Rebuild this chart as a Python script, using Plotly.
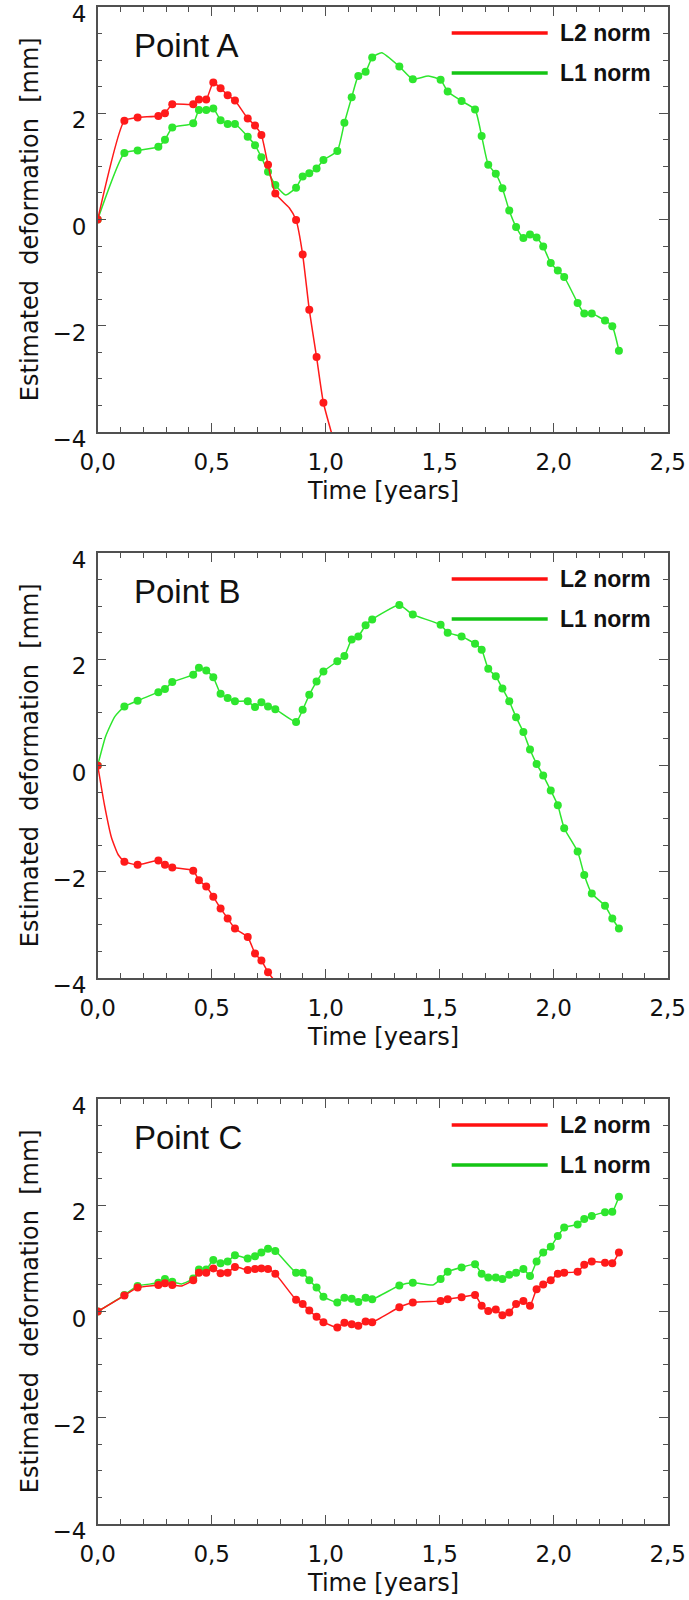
import plotly.graph_objects as go

# ---------------- data ----------------
T = [0.000, 0.117, 0.175, 0.266, 0.295, 0.327, 0.419, 0.444, 0.476, 0.507,
     0.539, 0.570, 0.602, 0.658, 0.690, 0.718, 0.747, 0.779, 0.870, 0.899,
     0.928, 0.960, 0.990, 1.051, 1.082, 1.114, 1.143, 1.175, 1.204, 1.323,
     1.382, 1.504, 1.535, 1.596, 1.655, 1.684, 1.713, 1.746, 1.775, 1.805,
     1.835, 1.867, 1.896, 1.925, 1.954, 1.987, 2.018, 2.046, 2.105, 2.134,
     2.167, 2.225, 2.257, 2.286]

# Point A
A_L2 = [0.00, 1.86, 1.92, 1.95, 2.00, 2.17, 2.17, 2.26, 2.26, 2.58,
        2.47, 2.34, 2.24, 1.90, 1.77, 1.59, 1.03, 0.49, -0.01, -0.66,
        -1.70, -2.59, -3.45]
A_L2_knot_t = [0.840, 1.051]
A_L2_knot_y = [0.22, -4.40]

A_L1 = [0.00, 1.25, 1.30, 1.37, 1.50, 1.73, 1.81, 2.06, 2.06, 2.09,
        1.87, 1.80, 1.80, 1.56, 1.40, 1.17, 0.90, 0.65, 0.60, 0.81,
        0.87, 0.96, 1.12, 1.29, 1.82, 2.30, 2.70, 2.78, 3.05, 2.88,
        2.64, 2.63, 2.41, 2.23, 2.07, 1.57, 1.03, 0.86, 0.59, 0.17,
        -0.14, -0.35, -0.28, -0.34, -0.51, -0.82, -0.96, -1.08, -1.57, -1.77,
        -1.77, -1.90, -2.01, -2.47]
A_L1_knot_t = [0.825, 1.246, 1.450]
A_L1_knot_y = [0.46, 3.14, 2.70]

# Point B
B_L2 = [0.00, -1.81, -1.87, -1.79, -1.87, -1.92, -1.98, -2.16, -2.28, -2.47,
        -2.69, -2.88, -3.07, -3.23, -3.54, -3.67, -3.89]
B_L2_knot_t = [0.030, 0.060, 0.090, 0.779]
B_L2_knot_y = [-0.75, -1.35, -1.68, -4.07]

B_L1 = [0.00, 1.11, 1.22, 1.38, 1.44, 1.57, 1.71, 1.84, 1.79, 1.66,
        1.35, 1.27, 1.21, 1.21, 1.10, 1.19, 1.11, 1.06, 0.82, 1.05,
        1.33, 1.58, 1.77, 1.96, 2.06, 2.37, 2.43, 2.64, 2.75, 3.02,
        2.84, 2.65, 2.50, 2.43, 2.29, 2.18, 1.82, 1.68, 1.45, 1.21,
        0.91, 0.63, 0.30, 0.03, -0.19, -0.47, -0.75, -1.18, -1.62, -2.06,
        -2.41, -2.64, -2.88, -3.07]
B_L1_knot_t = [0.035, 0.075]
B_L1_knot_y = [0.55, 0.92]

# Point C
C_L2 = [0.00, 0.30, 0.45, 0.50, 0.53, 0.50, 0.59, 0.73, 0.73, 0.81,
        0.72, 0.73, 0.84, 0.78, 0.80, 0.81, 0.80, 0.71, 0.22, 0.14,
        0.02, -0.10, -0.20, -0.30, -0.21, -0.24, -0.27, -0.19, -0.20, 0.08,
        0.17, 0.20, 0.23, 0.27, 0.31, 0.11, 0.01, 0.04, -0.07, -0.02,
        0.14, 0.20, 0.11, 0.42, 0.51, 0.59, 0.71, 0.73, 0.75, 0.88,
        0.94, 0.92, 0.91, 1.11]
C_L2_knot_t = [0.368]
C_L2_knot_y = [0.48]

C_L1 = [0.00, 0.31, 0.48, 0.54, 0.61, 0.56, 0.62, 0.79, 0.79, 0.97,
        0.91, 0.94, 1.06, 1.00, 1.04, 1.11, 1.18, 1.14, 0.73, 0.73,
        0.59, 0.45, 0.28, 0.17, 0.26, 0.24, 0.18, 0.26, 0.23, 0.49,
        0.54, 0.61, 0.75, 0.83, 0.89, 0.71, 0.64, 0.64, 0.61, 0.69,
        0.73, 0.80, 0.67, 0.94, 1.11, 1.22, 1.42, 1.58, 1.64, 1.74,
        1.80, 1.87, 1.88, 2.16]
C_L1_knot_t = [0.368, 1.470]
C_L1_knot_y = [0.52, 0.50]

PANEL_NAMES = ["Point A", "Point B", "Point C"]
SERIES_NAMES = ["L2 norm", "L1 norm"]

X_TICKS = [0.0, 0.5, 1.0, 1.5, 2.0, 2.5]
X_TICKTEXT = ["0,0", "0,5", "1,0", "1,5", "2,0", "2,5"]
Y_TICKS = [-4, -2, 0, 2, 4]
Y_TICKTEXT = ["\u22124", "\u22122", "0", "2", "4"]

X_TITLE = "Time [years]"
Y_TITLE = "Estimated  deformation  [mm]"

# ---------------- styling ----------------
RED = "#ff1a1a"
GREEN = "#2ee62e"
RED_LEG = "#ff1010"
GREEN_LEG = "#14c414"
AXIS_COL = "#505050"
TXT = "#111111"

W, H = 689, 1600
X_LEFT, X_RIGHT = 97.7, 667.7
PW = X_RIGHT - X_LEFT
PANEL_TOPS = [7, 553, 1099]
PANEL_H = 425

panels = [
    (A_L2, A_L2_knot_t, A_L2_knot_y, A_L1, A_L1_knot_t, A_L1_knot_y),
    (B_L2, B_L2_knot_t, B_L2_knot_y, B_L1, B_L1_knot_t, B_L1_knot_y),
    (C_L2, C_L2_knot_t, C_L2_knot_y, C_L1, C_L1_knot_t, C_L1_knot_y),
]


def merge(t, y, kt, ky):
    pts = sorted(list(zip(t, y)) + list(zip(kt, ky)))
    return [p[0] for p in pts], [p[1] for p in pts]


fig = go.Figure()
annotations = []
shapes = []

for i, (l2, l2kt, l2ky, l1, l1kt, l1ky) in enumerate(panels):
    n = "" if i == 0 else str(i + 1)
    xa, ya = "x" + n, "y" + n
    # series: green first, red on top
    for vals, kt, ky, col, name in [(l1, l1kt, l1ky, GREEN, SERIES_NAMES[1]),
                                    (l2, l2kt, l2ky, RED, SERIES_NAMES[0])]:
        tt = T[:len(vals)]
        lx, ly = merge(tt, vals, kt, ky)
        fig.add_trace(go.Scatter(x=lx, y=ly, mode="lines", xaxis=xa, yaxis=ya,
                                 line=dict(color=col, width=1.5, shape="spline", smoothing=0.5),
                                 showlegend=False, hoverinfo="skip", name=name))
        fig.add_trace(go.Scatter(x=tt, y=vals, mode="markers", xaxis=xa, yaxis=ya,
                                 marker=dict(color=col, size=8, line=dict(width=0)),
                                 showlegend=False, name=name))

    top = PANEL_TOPS[i]
    y1 = 1 - top / H
    y0 = 1 - (top + PANEL_H) / H
    axis_common = dict(showline=True, mirror="allticks", linecolor=AXIS_COL, linewidth=1.5,
                       ticks="inside", tickcolor=AXIS_COL, tickwidth=1.3,
                       showgrid=False, zeroline=False, automargin=False,
                       ticklabeloverflow="allow",
                       tickfont=dict(family="DejaVu Sans", size=23, color=TXT))
    fig.layout["xaxis" + n] = dict(axis_common, domain=[X_LEFT / W, X_RIGHT / W], range=[0, 2.5],
                                   anchor=ya, tickvals=X_TICKS, ticktext=X_TICKTEXT, ticklen=9,
                                   minor=dict(dtick=0.1, tick0=0, ticklen=5, ticks="inside",
                                              tickcolor=AXIS_COL, tickwidth=1.2, showgrid=False),
                                   ticklabelstandoff=9)
    fig.layout["yaxis" + n] = dict(axis_common, domain=[y0, y1], range=[-4, 4], anchor=xa,
                                   tickvals=Y_TICKS, ticktext=Y_TICKTEXT, ticklen=9,
                                   minor=dict(dtick=0.5, tick0=0, ticklen=5, ticks="inside",
                                              tickcolor=AXIS_COL, tickwidth=1.2, showgrid=False),
                                   ticklabelstandoff=5, ticklabelshift=7)

    xd, yd = xa + " domain", ya + " domain"
    # panel label
    annotations.append(dict(text=PANEL_NAMES[i], xref=xd, yref=yd,
                            x=34 / PW, y=1 - 38 / PANEL_H,
                            xanchor="left", yanchor="middle", showarrow=False,
                            font=dict(family="Liberation Sans", size=33, color=TXT)))
    # legend
    for name, col, dy in [(SERIES_NAMES[0], RED_LEG, 26), (SERIES_NAMES[1], GREEN_LEG, 66)]:
        yy = 1 - dy / PANEL_H
        shapes.append(dict(type="line", xref=xd, yref=yd,
                           x0=354 / PW, x1=450 / PW, y0=yy, y1=yy,
                           line=dict(color=col, width=3.5)))
        annotations.append(dict(text=name, xref=xd, yref=yd, x=460 / PW, y=yy,
                                xanchor="left", yanchor="middle", showarrow=False,
                                font=dict(family="Liberation Sans", size=23, color=TXT,
                                          weight="bold")))
    # axis titles
    annotations.append(dict(text=X_TITLE, xref=xd, yref=yd, x=0.5, y=-59 / PANEL_H,
                            xanchor="center", yanchor="middle", showarrow=False,
                            font=dict(family="DejaVu Sans", size=24, color=TXT)))
    annotations.append(dict(text=Y_TITLE, xref=xd, yref=yd, x=-68 / PW, y=0.5,
                            xanchor="center", yanchor="middle", showarrow=False, textangle=-90,
                            font=dict(family="DejaVu Sans", size=24, color=TXT)))

fig.update_layout(width=W, height=H, margin=dict(l=0, r=0, t=0, b=0, autoexpand=False),
                  paper_bgcolor="white", plot_bgcolor="white",
                  annotations=annotations, shapes=shapes, showlegend=False)

# remove the default 8 px page margin so the figure fills the window exactly
fig.write_html("out.html", config={"displayModeBar": False},
               post_script="document.body.style.margin='0';document.body.style.overflow='hidden';")
